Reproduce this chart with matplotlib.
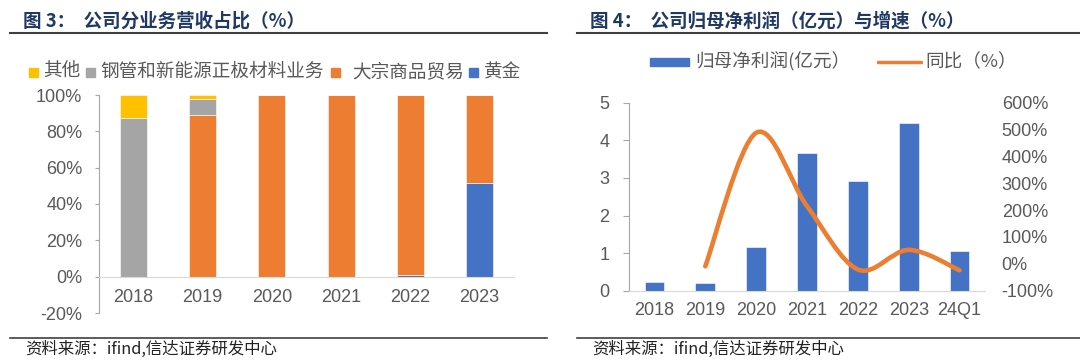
import matplotlib
matplotlib.use("Agg")
import matplotlib.pyplot as plt
from matplotlib.path import Path
from matplotlib.patches import PathPatch, Rectangle
from matplotlib.lines import Line2D
import numpy as np

plt.rcParams['font.family'] = ['Liberation Sans', 'Noto Sans CJK SC', 'DejaVu Sans']

# ---------------- data ----------------
years_l = ['2018', '2019', '2020', '2021', '2022', '2023']
seg_names = ['黄金', '大宗商品贸易', '钢管和新能源正极材料业务', '其他']   # stack order, bottom -> top
gold = [0.0, 0.0, 0.0, 0.0, 0.01, 0.517]
trade = [0.0, 0.892, 1.0, 1.0, 0.99, 0.483]
pipe = [0.872, 0.084, 0.0, 0.0, 0.0, 0.0]
other = [0.128, 0.024, 0.0, 0.0, 0.0, 0.0]
left_ticks = [-0.2, 0, 0.2, 0.4, 0.6, 0.8, 1.0]

years_r = ['2018', '2019', '2020', '2021', '2022', '2023', '24Q1']
profit = [0.22, 0.20, 1.17, 3.65, 2.92, 4.45, 1.06]
yoy_x = ['2019', '2020', '2021', '2022', '2023', '24Q1']
yoy = [-9, 488, 215, -21, 52, -24]
right_ticks_l = [0, 1, 2, 3, 4, 5]
right_ticks_r = [-100, 0, 100, 200, 300, 400, 500, 600]

title_l = '图 3：  公司分业务营收占比（%）'
title_r = '图 4：  公司归母净利润（亿元）与增速（%）'
source = '资料来源：ifind,信达证券研发中心'
legend_r = ['归母净利润(亿元）', '同比（%）']

# ---------------- style ----------------
C_YEL, C_GRY, C_ORG, C_BLU = '#FFC000', '#A5A5A5', '#ED7D31', '#4472C4'
seg_colors = [C_BLU, C_ORG, C_GRY, C_YEL]
TXT = '#595959'
AX = '#A6A6A6'
BASE = '#D9D9D9'
TITLE_C = '#1F3864'
W, H = 1080, 361

fig = plt.figure(figsize=(W / 100, H / 100), dpi=100)


def fx(px):
    return px / W


def fy(py):
    return 1 - py / H


def axes_px(x0, x1, ytop, ybot):
    return fig.add_axes([fx(x0), fy(ybot), fx(x1 - x0), (ybot - ytop) / H])


# ---------------- headers / footers ----------------
for (tx, lx0, lx1, title) in [(23, 10, 547, title_l), (590, 577, 1080, title_r)]:
    fig.text(fx(tx), fy(21), title, family=['Noto Sans CJK SC'], weight='bold',
             fontsize=13.3, color=TITLE_C, va='center', ha='left')
    fig.add_artist(Line2D([fx(lx0), fx(lx1)], [fy(33), fy(33)], color='#404040', lw=1.5))
    fig.add_artist(Line2D([fx(lx0), fx(lx1)], [fy(337.7), fy(337.7)], color='#404040', lw=1.2))
    fig.text(fx(tx + 2), fy(349.5), source, family=['Noto Sans CJK SC'], fontsize=11.8,
             color='#222222', va='center', ha='left', style='italic')

# ---------------- left chart ----------------
axL = axes_px(99, 514, 95, 313)
xl = np.arange(len(years_l))
bottom = np.zeros(len(years_l))
for name, vals, col in zip(seg_names, [gold, trade, pipe, other], seg_colors):
    v = np.array(vals)
    axL.bar(xl, v, bottom=bottom, width=0.39, color=col, edgecolor='white', linewidth=0.4, label=name)
    bottom += v
axL.set_xlim(-0.5, len(years_l) - 0.5)
axL.set_ylim(-0.2, 1.0)
axL.set_yticks(left_ticks)
axL.set_yticklabels([f'{int(round(t * 100))}%' for t in left_ticks])
axL.set_xticks(xl)
axL.set_xticklabels(years_l)
for s in ['top', 'right']:
    axL.spines[s].set_visible(False)
axL.spines['bottom'].set_position(('data', 0))
axL.spines['bottom'].set_color(BASE)
axL.spines['left'].set_color(AX)
axL.tick_params(axis='x', length=0, pad=9, labelsize=13, labelcolor=TXT)
axL.tick_params(axis='y', length=3, color=AX, pad=9, labelsize=13, labelcolor=TXT, direction='out')
axL.set_facecolor('none')

# left legend (manual, in figure pixel positions)
leg_items_l = [(29, 43, '其他', C_YEL), (86, 100, '钢管和新能源正极材料业务', C_GRY),
               (331, 352, '大宗商品贸易', C_ORG), (469, 484, '黄金', C_BLU)]
for sx, tx, lab, col in leg_items_l:
    fig.add_artist(Rectangle((fx(sx), fy(72 + 4.5)), fx(9), 9 / H, color=col, transform=fig.transFigure))
    fig.text(fx(tx), fy(72), lab, family=['Noto Sans CJK SC'], fontsize=13.4, color=TXT,
             va='center', ha='left')

# ---------------- right chart ----------------
axR = axes_px(629, 985, 102.7, 290.7)
xr = np.arange(len(years_r))
axR.bar(xr, profit, width=0.39, color=C_BLU, edgecolor='white', linewidth=0.4)
axR.set_xlim(-0.5, len(years_r) - 0.5)
axR.set_ylim(0, 5)
axR.set_yticks(right_ticks_l)
axR.set_xticks(xr)
axR.set_xticklabels(years_r)
for s in ['top', 'right']:
    axR.spines[s].set_visible(False)
axR.spines['bottom'].set_color(BASE)
axR.spines['left'].set_color(AX)
axR.tick_params(axis='x', length=0, pad=8, labelsize=13, labelcolor=TXT)
axR.tick_params(axis='y', length=4, color=AX, pad=10, labelsize=13, labelcolor=TXT, direction='out')

ax2 = axR.twinx()
ax2.set_ylim(-100, 600)
ax2.set_yticks(right_ticks_r)
ax2.set_yticklabels([f'{t}%' for t in right_ticks_r])
for s in ax2.spines.values():
    s.set_visible(False)
ax2.tick_params(axis='y', length=0, pad=12, labelsize=13, labelcolor=TXT)

# smoothed line (Excel-style Bezier smoothing through the data points)
px = np.array([years_r.index(y) for y in yoy_x], dtype=float)
py = np.array(yoy, dtype=float)
pts = np.column_stack([px, py])
n = len(pts)
verts = [pts[0]]
codes = [Path.MOVETO]
for i in range(n - 1):
    p0 = pts[max(i - 1, 0)]
    p1 = pts[i]
    p2 = pts[i + 1]
    p3 = pts[min(i + 2, n - 1)]
    c1 = p1 + (p2 - p0) / 6.0
    c2 = p2 - (p3 - p1) / 6.0
    verts += [c1, c2, p2]
    codes += [Path.CURVE4] * 3
ax2.add_patch(PathPatch(Path(verts, codes), facecolor='none', edgecolor=C_ORG,
                        lw=3.3, capstyle='round', joinstyle='round'))

# right legend
fig.add_artist(Rectangle((fx(650), fy(62 + 4)), fx(39), 8 / H, color=C_BLU, transform=fig.transFigure))
fig.text(fx(695), fy(62), legend_r[0], family=['Noto Sans CJK SC'], fontsize=13.4, color=TXT,
         va='center', ha='left')
fig.add_artist(Line2D([fx(878), fx(921)], [fy(62), fy(62)], color=C_ORG, lw=2.5,
                      solid_capstyle='round'))
fig.text(fx(925), fy(62), legend_r[1], family=['Noto Sans CJK SC'], fontsize=13.4, color=TXT,
         va='center', ha='left')

fig.savefig('out.png', dpi=100)
